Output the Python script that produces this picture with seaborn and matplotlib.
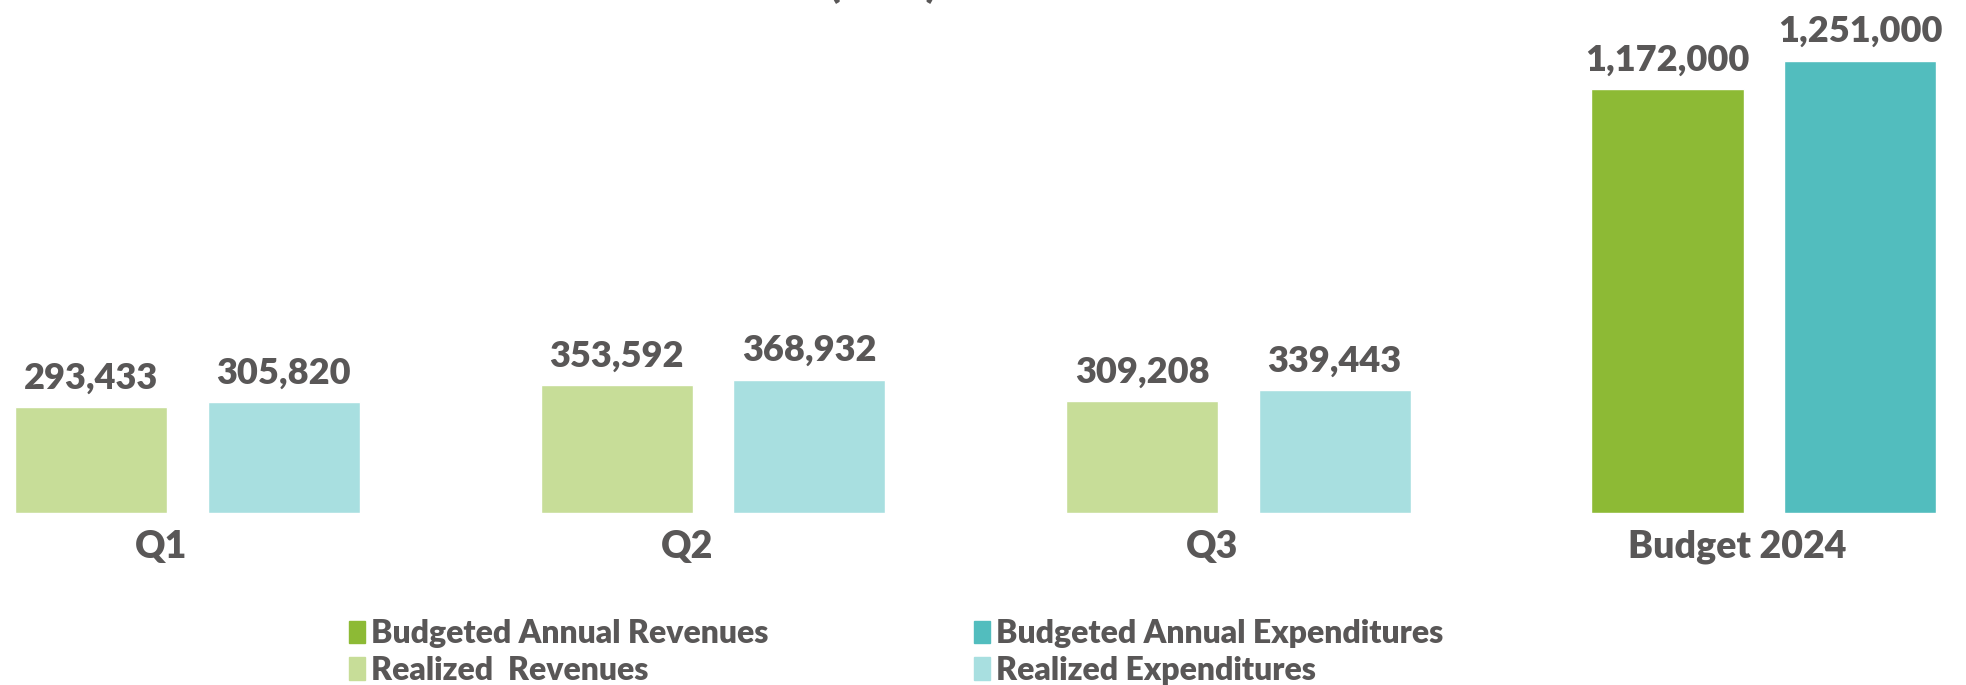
import numpy as np
import pandas as pd
import matplotlib
matplotlib.use("Agg")
import matplotlib.pyplot as plt
from matplotlib.patches import Patch
import seaborn as sns

# ---- data ----
periods = ["Q1", "Q2", "Q3", "Budget 2024"]
revenues = [293433, 353592, 309208, 1172000]
expenditures = [305820, 368932, 339443, 1251000]
series_names = ["Revenues", "Expenditures"]
legend_labels = ["Budgeted Annual Revenues", "Realized  Revenues",
                 "Budgeted Annual Expenditures", "Realized Expenditures"]
title_text = "(USD)"

# realized = light shades, budget = strong shades
rev_light, rev_dark = "#c7dd98", "#8dba35"
exp_light, exp_dark = "#a8dfe0", "#52bdbe"
grey = "#595757"
weight = "heavy"

df = pd.DataFrame({
    "period": periods * 2,
    "series": [series_names[0]] * len(periods) + [series_names[1]] * len(periods),
    "value": revenues + expenditures,
})

sns.set_theme(style="white")
plt.rcParams["font.family"] = ["Lato", "DejaVu Sans"]

W, H = 1966, 685
fig = plt.figure(figsize=(W / 100, H / 100), dpi=100)
ax = fig.add_axes([0, 172 / H, 1, 513 / H])

sns.barplot(data=df, x="period", y="value", hue="series",
            order=periods, hue_order=series_names,
            palette=[rev_light, exp_light], saturation=1,
            width=0.733, gap=0.21, errorbar=None, legend=False, ax=ax)

# budget bars get the strong colours
ax.containers[0][-1].set_facecolor(rev_dark)
ax.containers[1][-1].set_facecolor(exp_dark)

for cont, vals in zip(ax.containers, [revenues, expenditures]):
    ax.bar_label(cont, labels=[f"{v:,.0f}" for v in vals], padding=9,
                 fontsize=26, fontweight=weight, color=grey)

ax.set_xlim(-0.357, 3.385)
ax.set_ylim(0, 1418700)
ax.set_xticks(np.arange(len(periods)) - 0.05, periods)
ax.set_yticks([])
ax.set_xlabel("")
ax.set_ylabel("")
ax.tick_params(axis="x", length=0, pad=12, labelsize=27, labelcolor=grey)
for t in ax.get_xticklabels():
    t.set_fontweight(weight)
sns.despine(ax=ax, left=True, bottom=True)

# title is cut off at the top edge, only the brackets peek in
fig.text(883 / W, 1.0036, title_text, ha="center", va="baseline",
         fontsize=30, fontweight=weight, color=grey)

# legend: two columns placed separately
leg_kw = dict(loc="center left", frameon=False, borderpad=0,
              borderaxespad=0, handlelength=0.5, handleheight=0.7,
              handletextpad=0.2, labelspacing=0.22, labelcolor=grey,
              prop={"weight": weight, "size": 23})
leg1 = fig.legend([Patch(color=rev_dark), Patch(color=rev_light)], legend_labels[:2],
                  bbox_to_anchor=(349 / W, 33 / H), **leg_kw)
leg2 = fig.legend([Patch(color=exp_dark), Patch(color=exp_light)], legend_labels[2:],
                  bbox_to_anchor=(974 / W, 33 / H), **leg_kw)

fig.savefig("out.png", dpi=100)
